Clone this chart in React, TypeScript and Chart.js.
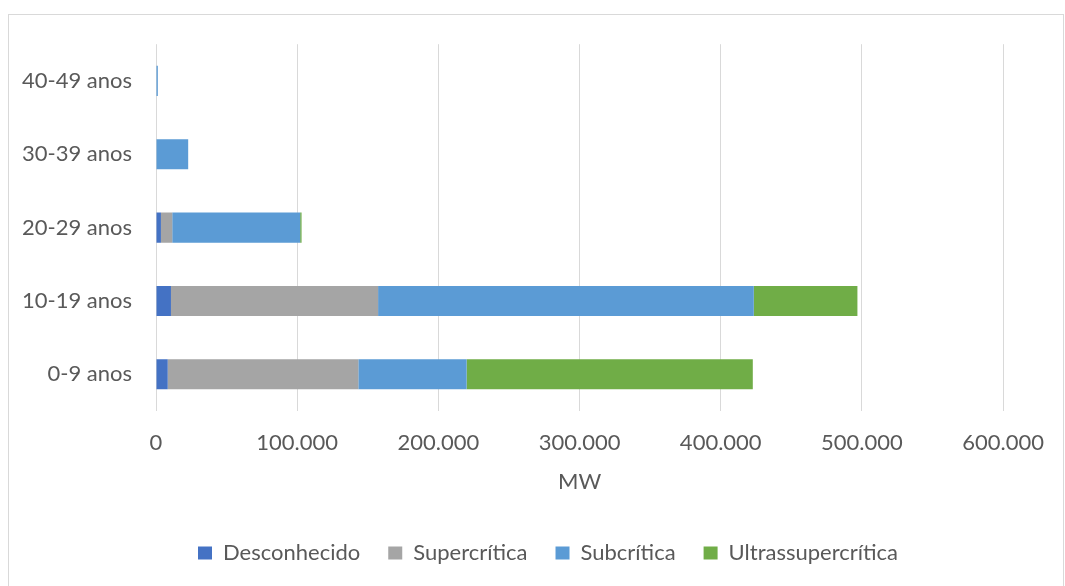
import React, { useEffect, useRef } from "react";
import { Chart, registerables } from "chart.js";

Chart.register(...registerables);

const categories = ["0-9 anos", "10-19 anos", "20-29 anos", "30-39 anos", "40-49 anos"];
const desconhecido = [8300, 10600, 3500, 0, 0];
const supercritica = [135000, 146700, 8000, 0, 0];
const subcritica = [76700, 266100, 90600, 22800, 1300];
const ultrassupercritica = [202700, 73400, 1000, 0, 0];
const xTicks = [0, 100000, 200000, 300000, 400000, 500000, 600000];

const FONT = "Lato";
const TEXT = "#595959";
const GRID = "#d9d9d9";

function fmt(v: number): string {
  return String(Math.round(v)).replace(/\B(?=(\d{3})+(?!\d))/g, ".");
}

const legendShift = {
  id: "legendShift",
  afterLayout(chart: any) {
    const l = chart.legend;
    if (l) {
      l.left += 41;
      l.right += 41;
    }
  },
};

export default function App() {
  const ref = useRef<HTMLCanvasElement | null>(null);
  useEffect(() => {
    if (!ref.current) return;
    const chart = new Chart(ref.current, {
      type: "bar",
      plugins: [legendShift],
      data: {
        labels: categories,
        datasets: [
          { label: "Desconhecido", data: desconhecido, backgroundColor: "#4472C4" },
          { label: "Supercrítica", data: supercritica, backgroundColor: "#A5A5A5" },
          { label: "Subcrítica", data: subcritica, backgroundColor: "#5B9BD5" },
          { label: "Ultrassupercrítica", data: ultrassupercritica, backgroundColor: "#70AD47" },
        ],
      },
      options: {
        indexAxis: "y",
        responsive: false,
        animation: false,
        datasets: { bar: { barPercentage: 0.41, categoryPercentage: 1, borderWidth: 0 } },
        layout: { padding: { left: 0, top: 24, right: 58, bottom: 19 } },
        plugins: {
          tooltip: { enabled: false },
          legend: {
            position: "bottom",
            labels: {
              font: { family: FONT, size: 22 },
              color: TEXT,
              boxWidth: 14,
              boxHeight: 13,
              padding: 28,
            },
          },
        },
        scales: {
          x: {
            stacked: true,
            min: 0,
            max: 600000,
            afterBuildTicks: (s: any) => {
              s.ticks = xTicks.map((v) => ({ value: v }));
            },
            afterFit: (s: any) => {
              s.height = 103;
            },
            grid: { color: GRID, lineWidth: 1, drawTicks: false },
            border: { display: false },
            ticks: {
              font: { family: FONT, size: 22 },
              color: TEXT,
              padding: 19,
              callback: (v: any) => fmt(Number(v)),
            },
            title: {
              display: true,
              text: "MW",
              font: { family: FONT, size: 22 },
              color: TEXT,
              padding: { top: 0, bottom: 19 },
            },
          },
          y: {
            stacked: true,
            reverse: true,
            afterFit: (s: any) => {
              s.width = 147;
            },
            grid: { display: false },
            border: { display: false },
            ticks: {
              font: { family: FONT, size: 22 },
              color: TEXT,
              padding: 16,
            },
          },
        },
      },
    });
    return () => chart.destroy();
  }, []);
  return (
    <div
      style={{
        position: "absolute",
        left: 8,
        top: 14,
        width: 1056,
        height: 580,
        border: `1px solid ${GRID}`,
        boxSizing: "border-box",
        background: "#fff",
      }}
    >
      <canvas ref={ref} width={1054} height={578} style={{ display: "block" }} />
    </div>
  );
}
